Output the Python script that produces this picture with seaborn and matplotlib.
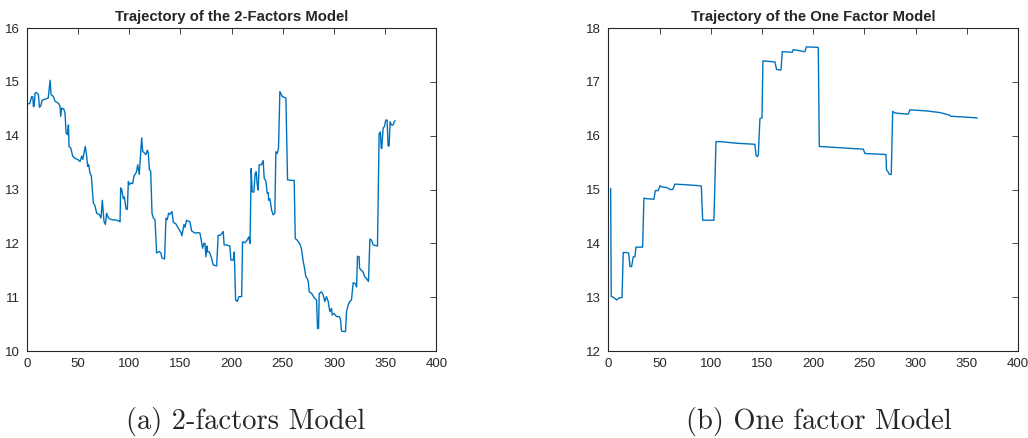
import matplotlib
matplotlib.use("Agg")
import matplotlib.pyplot as plt
import seaborn as sns

# values (day, level)
two_factor_days = [
    1.6, 3, 4.9, 6, 6.5, 7.3, 8.1, 9.7, 11.4, 12.4, 13.7, 15, 19.5, 21, 22.8,
    23.8, 26, 27.6, 31, 32.5, 33.2, 34.1, 36, 37.4, 38.4, 39.7, 40.7, 41.3,
    43, 44.9, 47, 50.4, 52, 53.7, 54.7, 55.9, 57.2, 58.5, 59.5, 60.5, 61.8,
    63.1, 65, 66.6, 68.3, 71, 72.5, 73.8, 75.4, 76.8, 78, 79.7, 82.9, 87.8,
    90.4, 91.1, 91.7, 92.7, 94.3, 95.3, 96.9, 98.2, 99.2, 100.2, 101.5, 103.4,
    104.7, 106.7, 107.3, 108.3, 109.9, 110.6, 112.2, 113.2, 114.8, 116.4,
    117.7, 118.7, 119.7, 121, 122.3, 123.6, 125.2, 126.8, 129.4, 131, 132,
    134.6, 135.9, 137.2, 138.5, 139.8, 141.8, 143.1, 145.7, 148, 150.6, 151.5,
    153.5, 154.5, 156.1, 157.7, 159.3, 161, 164.2, 167.5, 169.1, 171.7, 172.9,
    174, 174.9, 176, 176.6, 178.3, 180.5, 182, 185.4, 186.9, 189.1, 191.8,
    192.7, 195, 198.3, 199.3, 201.6, 202.6, 203.9, 205.5, 207.1, 209.8, 210.7,
    213, 215.2, 216.8, 218, 219.1, 220.1, 221.7, 223, 224, 224.9, 225.9,
    226.9, 229.2, 230.8, 231.8, 233.4, 234.8, 235.8, 236.1, 237.4, 239, 240.6,
    242.2, 243.2, 244.5, 245.8, 247.1, 248.7, 249.4, 253, 254.6, 258.5, 261.1,
    262.1, 264, 266.6, 268.2, 269.9, 270.9, 272.5, 273.8, 274.8, 275.8, 278.1,
    280.3, 281.6, 282.9, 283.9, 284.9, 285.5, 287.8, 289.4, 291, 292.6, 294.3,
    295.9, 297.5, 298.2, 299.9, 302.4, 305, 306.3, 307.3, 311.2, 312.2, 313.8,
    315.4, 317, 318.7, 321, 322, 322.9, 324.5, 324.9, 326.5, 328, 330, 331.6,
    333.6, 335, 336.6, 338.2, 342.4, 344, 345.3, 346, 346.6, 347.9, 349.2,
    350.5, 351.8, 352.8, 353.8, 354.7, 356, 357.7, 358.7, 359.6,
]
two_factor_values = [
    14.59, 14.6, 14.73, 14.72, 14.54, 14.55, 14.79, 14.8, 14.76, 14.53, 14.55,
    14.66, 14.69, 14.7, 15.03, 14.76, 14.73, 14.64, 14.6, 14.55, 14.36, 14.51,
    14.5, 14.42, 14.05, 14.02, 14.2, 13.8, 13.77, 13.62, 13.58, 13.55, 13.52,
    13.62, 13.56, 13.68, 13.8, 13.62, 13.43, 13.46, 13.3, 13.25, 12.75, 12.7,
    12.56, 12.53, 12.47, 12.8, 12.41, 12.35, 12.56, 12.47, 12.44, 12.43,
    12.41, 12.4, 13.03, 13.0, 12.83, 12.86, 12.64, 12.63, 13.15, 13.09, 13.12,
    13.11, 13.25, 13.31, 13.34, 13.46, 13.28, 13.5, 13.96, 13.71, 13.68,
    13.65, 13.73, 13.68, 13.37, 13.34, 12.56, 12.47, 12.44, 11.82, 11.85,
    11.82, 11.73, 11.71, 12.47, 12.44, 12.56, 12.54, 12.59, 12.39, 12.36,
    12.28, 12.2, 12.14, 12.35, 12.3, 12.43, 12.41, 12.4, 12.23, 12.19, 12.2,
    12.19, 11.91, 12.0, 12.0, 11.75, 11.95, 11.84, 11.84, 11.72, 11.6, 11.58,
    12.15, 12.15, 12.22, 11.97, 11.97, 11.95, 11.69, 11.69, 11.84, 10.95,
    10.92, 11.01, 11.01, 12.03, 12.01, 12.06, 12.12, 12.0, 13.39, 12.96,
    12.95, 13.3, 13.33, 13.11, 12.99, 13.46, 13.46, 13.54, 13.21, 13.16,
    12.93, 12.94, 12.8, 12.83, 12.62, 12.53, 12.56, 13.7, 13.67, 13.77, 14.82,
    14.76, 14.73, 14.7, 13.18, 13.17, 13.17, 12.09, 12.06, 11.99, 11.9, 11.66,
    11.57, 11.38, 11.35, 11.29, 11.1, 11.07, 11.0, 10.97, 10.95, 10.42, 10.42,
    11.07, 11.1, 11.04, 10.92, 11.01, 10.92, 10.73, 10.79, 10.67, 10.7, 10.64,
    10.64, 10.59, 10.37, 10.36, 10.73, 10.86, 10.92, 10.95, 11.27, 11.25,
    11.19, 11.76, 11.75, 11.54, 11.5, 11.48, 11.38, 11.35, 11.29, 12.08,
    12.06, 11.97, 11.95, 14.04, 14.07, 13.77, 13.76, 14.14, 14.17, 14.29,
    14.29, 13.81, 13.81, 14.26, 14.2, 14.2, 14.26, 14.28,
]

one_factor_days = [
    2.3, 2.9, 5, 8.2, 11, 13.4, 14.6, 17.5, 19.9, 21.2, 22.8, 24.4, 26, 27,
    33.5, 34.8, 37.4, 44.6, 45.9, 48.8, 50.4, 51.7, 55.3, 58, 60.2, 62.8,
    65.1, 74.8, 89.4, 90.8, 92.1, 103.1, 105.1, 109, 125.3, 143.1, 144.1,
    145.4, 146.4, 147.3, 148, 150, 150.9, 162.6, 164.2, 168.5, 169.8, 179.5,
    180.5, 191.9, 193.2, 204.9, 205.9, 248.8, 250.4, 270.9, 271.5, 273, 274.2,
    276.1, 277.5, 280, 292.7, 294.3, 310.6, 323.6, 333.4, 334, 345, 360,
]
one_factor_values = [
    15.02, 13.01, 13.0, 12.95, 12.99, 12.99, 13.83, 13.83, 13.82, 13.57,
    13.57, 13.75, 13.75, 13.93, 13.93, 14.84, 14.83, 14.82, 14.98, 14.98,
    15.07, 15.05, 15.04, 15.03, 15.0, 15.0, 15.1, 15.09, 15.07, 15.06, 14.43,
    14.43, 15.89, 15.89, 15.86, 15.84, 15.64, 15.61, 15.64, 16.04, 16.32,
    16.33, 17.39, 17.37, 17.23, 17.22, 17.56, 17.55, 17.6, 17.56, 17.65,
    17.64, 15.8, 15.75, 15.67, 15.65, 15.36, 15.33, 15.28, 15.28, 16.45,
    16.42, 16.4, 16.48, 16.46, 16.43, 16.38, 16.36, 16.35, 16.33,
]

titles = ["Trajectory of the 2-Factors Model", "Trajectory of the One Factor Model"]
captions = ["(a) 2-factors Model", "(b) One factor Model"]
y_ranges = [(10, 16), (12, 18)]

sns.set_style("white")
plt.rcParams["font.family"] = ["Liberation Sans", "DejaVu Sans"]

line_color = "#0072BD"
axis_color = "#262626"

fig = plt.figure(figsize=(10.28, 4.38), dpi=100)
ax_left = fig.add_axes([0.026, 0.1986, 0.3986, 0.7374])
ax_right = fig.add_axes([0.5917, 0.1986, 0.3988, 0.7374])

series = [
    (two_factor_days, two_factor_values),
    (one_factor_days, one_factor_values),
]
caption_x = [0.239, 0.797]

for ax, (days, values), title, caption, yr, cx in zip(
    [ax_left, ax_right], series, titles, captions, y_ranges, caption_x
):
    sns.lineplot(x=days, y=values, ax=ax, color=line_color, linewidth=1.0,
                 estimator=None, sort=False)
    ax.set_xlim(0, 400)
    ax.set_ylim(*yr)
    ax.set_xticks(range(0, 401, 50))
    ax.set_yticks(range(yr[0], yr[1] + 1))
    ax.set_title(title, fontsize=10.7, fontweight="bold", pad=5)
    ax.tick_params(direction="in", length=4, width=0.6, colors=axis_color,
                   labelsize=9.5, top=True, right=True, pad=5)
    for sp in ax.spines.values():
        sp.set_color(axis_color)
        sp.set_linewidth(0.8)
    ax.set_xlabel("")
    ax.set_ylabel("")
    fig.text(cx, 0.038, caption, ha="center", va="center",
             fontsize=20.5, family="cmr10")

fig.savefig("out.png", dpi=100)
